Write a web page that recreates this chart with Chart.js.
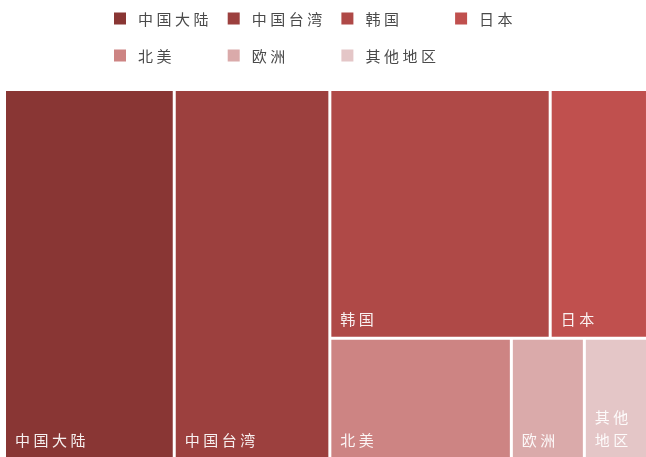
<!DOCTYPE html>
<html>
<head>
<meta charset="utf-8">
<script src="https://cdn.jsdelivr.net/npm/chart.js@4.4.1/dist/chart.umd.min.js"></script>
<style>
  html, body { margin: 0; padding: 0; background: #fff; }
</style>
</head>
<body>
<canvas id="regionTreemap" width="646" height="457"></canvas>
<script>
const regions = ["中国大陆", "中国台湾", "韩国", "日本", "北美", "欧洲", "其他地区"];
const shares = [26.4, 24.2, 23.1, 10.2, 9.2, 3.7, 3.2];
const palette = ["#893634", "#9c403e", "#af4947", "#c0504e", "#cd8483", "#daaaaa", "#e4c6c7"];

const GOLDEN = (1 + Math.sqrt(5)) / 2;
const CJK_FONT = '"Noto Sans CJK SC", "Noto Sans", sans-serif';

// how far a strip is from the preferred (portrait, golden) cell shape
function stripScore(row, columns, w, h) {
  const sum = row.reduce((a, b) => a + b, 0);
  let score = 0;
  row.forEach((a) => {
    let cw, ch;
    if (columns) {
      cw = sum / h;
      ch = a / cw;
    } else {
      ch = sum / w;
      cw = a / ch;
    }
    const r = ch / cw / GOLDEN;
    score = Math.max(score, r, 1 / r);
  });
  return score;
}

function squarify(values, x, y, w, h) {
  const total = values.reduce((a, b) => a + b, 0);
  const areas = values.map((v) => (v * w * h) / total);
  const rects = [];
  let i = 0;
  while (i < areas.length) {
    const columns = w > h;
    let row = [areas[i]];
    let best = stripScore(row, columns, w, h);
    let j = i + 1;
    while (j < areas.length) {
      const next = row.concat(areas[j]);
      const s = stripScore(next, columns, w, h);
      if (s > best) break;
      row = next;
      best = s;
      j++;
    }
    const sum = row.reduce((a, b) => a + b, 0);
    if (columns) {
      const cw = sum / h;
      let cy = y;
      row.forEach((a) => {
        const ch = a / cw;
        rects.push({ x: x, y: cy, w: cw, h: ch });
        cy += ch;
      });
      x += cw;
      w -= cw;
    } else {
      const rh = sum / w;
      let cx = x;
      row.forEach((a) => {
        const cw = a / rh;
        rects.push({ x: cx, y: y, w: cw, h: rh });
        cx += cw;
      });
      y += rh;
      h -= rh;
    }
    i = j;
  }
  return rects;
}

// draws text one glyph at a time so the spacing matches the serif look
function spacedText(ctx, text, x, y, spacing) {
  let cx = x;
  for (const ch of text) {
    ctx.fillText(ch, cx, y);
    cx += ctx.measureText(ch).width + spacing;
  }
}

const treemapPlugin = {
  id: "treemap",
  beforeDatasetsDraw(chart, args, opts) {
    const { ctx } = chart;
    const xs = chart.scales.x;
    const ys = chart.scales.y;
    const left = xs.getPixelForValue(0);
    const right = xs.getPixelForValue(100);
    const top = ys.getPixelForValue(0);
    const bottom = ys.getPixelForValue(100);
    const rects = squarify(shares, left, top, right - left, bottom - top);
    const half = opts.gap / 2;

    ctx.save();
    rects.forEach((r, k) => {
      const rx = r.x + half;
      const ry = r.y + half;
      const rw = r.w - opts.gap;
      const rh = r.h - opts.gap;
      ctx.fillStyle = palette[k];
      ctx.fillRect(rx, ry, rw, rh);

      // label sits in the lower-left corner, wrapped to the cell width
      ctx.font = `${opts.fontSize}px ${CJK_FONT}`;
      ctx.fillStyle = opts.labelColor;
      ctx.textBaseline = "middle";
      ctx.textAlign = "left";
      const step = ctx.measureText("中").width + opts.spacing;
      const perLine = Math.max(1, Math.floor((rw - 2 * opts.padX + opts.spacing) / step));
      const chars = Array.from(regions[k]);
      const lines = [];
      for (let c = 0; c < chars.length; c += perLine) {
        lines.push(chars.slice(c, c + perLine).join(""));
      }
      const visibleBottom = Math.min(ry + rh, chart.height);
      lines.forEach((line, n) => {
        const ly = visibleBottom - opts.padBottom - (lines.length - 1 - n) * opts.lineHeight;
        spacedText(ctx, line, rx + opts.padX, ly, opts.spacing);
      });
    });
    ctx.restore();
  },
  afterDraw(chart, args, opts) {
    // grid legend above the plot
    const { ctx } = chart;
    const lg = opts.legend;
    ctx.save();
    ctx.font = `${opts.fontSize}px ${CJK_FONT}`;
    ctx.textBaseline = "middle";
    ctx.textAlign = "left";
    regions.forEach((name, k) => {
      const col = k % lg.perRow;
      const row = Math.floor(k / lg.perRow);
      const bx = lg.x + col * lg.colWidth;
      const by = lg.y + row * lg.rowHeight;
      ctx.fillStyle = palette[k];
      ctx.fillRect(bx, by - lg.box / 2, lg.box, lg.box);
      ctx.fillStyle = lg.color;
      spacedText(ctx, name, bx + lg.textOffset, by + 1, opts.spacing);
    });
    ctx.restore();
  },
};

new Chart(document.getElementById("regionTreemap"), {
  type: "scatter",
  data: {
    labels: regions,
    datasets: [{ label: "占比", data: [] }],
  },
  options: {
    responsive: false,
    animation: false,
    devicePixelRatio: 1,
    layout: {
      padding: { left: 4.5, top: 89.5, right: 0, bottom: 0 },
    },
    scales: {
      // the map runs 0..100 on both axes; the far edges sit just past the canvas
      x: { type: "linear", min: 0, max: 99.77, display: false },
      y: { type: "linear", min: 0, max: 99.59, reverse: true, display: false },
    },
    plugins: {
      legend: { display: false },
      tooltip: { enabled: false },
      treemap: {
        gap: 3,
        fontSize: 15,
        spacing: 3.5,
        padX: 9,
        padBottom: 17,
        lineHeight: 23,
        labelColor: "rgba(255,255,255,0.92)",
        legend: {
          x: 114,
          y: 18.5,
          perRow: 4,
          colWidth: 113.7,
          rowHeight: 37,
          box: 12,
          textOffset: 24,
          color: "#4a4a4a",
        },
      },
    },
  },
  plugins: [treemapPlugin],
});
</script>
</body>
</html>
